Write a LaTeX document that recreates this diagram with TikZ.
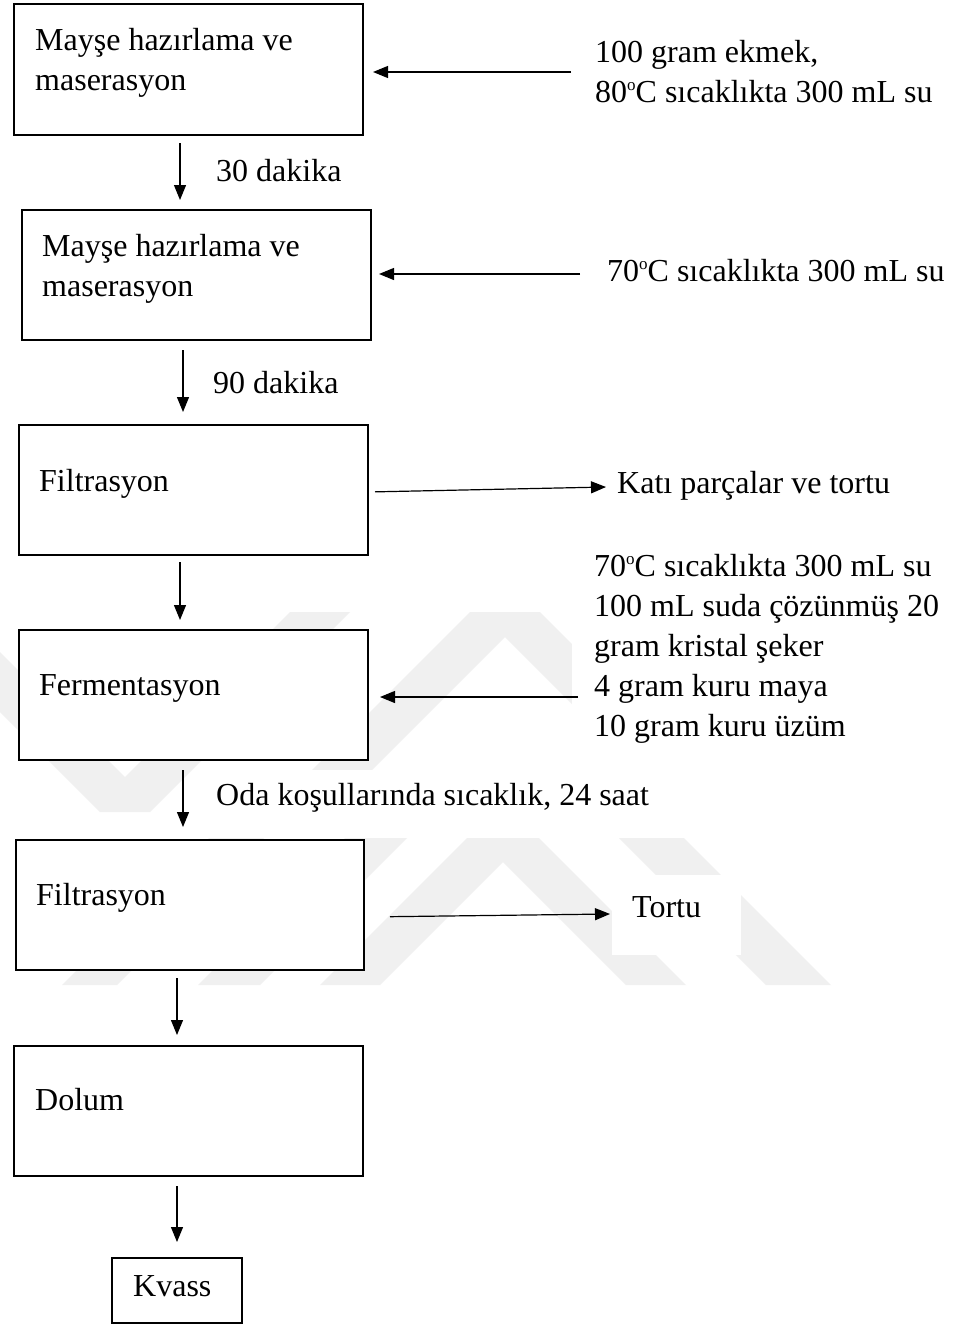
\documentclass[tikz,border=0pt]{standalone}
\usepackage{fontspec}
\setmainfont{Liberation Serif}
\usetikzlibrary{arrows.meta}
\definecolor{wm}{RGB}{240,240,240}
\tikzset{
  boxn/.style={draw=black, line width=1.2pt, fill=white, anchor=north west, inner sep=0pt, outer sep=0pt},
  txt/.style={anchor=base west, inner sep=0pt, font=\fontsize{32}{40}\selectfont},
  mtxt/.style={anchor=north west, inner sep=0pt, align=left, font=\fontsize{32}{40}\selectfont},
  arr/.style={line width=1.2pt, -{Triangle[length=15pt,width=12pt]}},
}
\newcommand{\fstrut}{\rule{0pt}{30pt}}
\newcommand{\dego}{\raisebox{12pt}{\fontsize{17}{17}\selectfont o}}
\begin{document}
\begin{tikzpicture}[x=1pt,y=-1pt]
\useasboundingbox (0,0) rectangle (958,1325);
\fill[white] (0,0) rectangle (958,1325);
% faint watermark
\fill[wm] (0,712)--(100,812)--(150,812)--(350,612)--(290,612)--(125,777)--(0,652)--cycle;
\fill[wm] (270,812)--(470,612)--(540,612)--(620,692)--(620,752)--(505,637)--(330,812)--cycle;
\fill[wm] (62,985)--(117,985)--(264,838)--(209,838)--cycle;
\fill[wm] (198,985)--(260,985)--(407,838)--(345,838)--cycle;
\fill[wm] (320,985)--(467,838)--(539,838)--(686,985)--(626,985)--(503,862)--(380,985)--cycle;
\fill[wm] (766,985)--(831,985)--(684,838)--(619,838)--cycle;
\fill[white] (572,540) rectangle (958,757);
\fill[white] (612,875) rectangle (741,955);
\fill[white] (195,770) rectangle (660,832);
% boxes
\node[boxn, minimum width=349pt, minimum height=131pt] (b1) at (14,4) {};
\node[boxn, minimum width=349pt, minimum height=130pt] (b2) at (22,210) {};
\node[boxn, minimum width=349pt, minimum height=130pt] (b3) at (19,425) {};
\node[boxn, minimum width=349pt, minimum height=130pt] (b4) at (19,630) {};
\node[boxn, minimum width=348pt, minimum height=130pt] (b5) at (16,840) {};
\node[boxn, minimum width=349pt, minimum height=130pt] (b6) at (14,1046) {};
\node[boxn, minimum width=130pt, minimum height=65pt] (b7) at (112,1258) {};
% texts
\node[mtxt] (t1) at (35,20) {\fstrut Mayşe hazırlama ve\\maserasyon};
\node[mtxt] (i1) at (595,32) {\fstrut 100 gram ekmek,\\80\dego C sıcaklıkta 300 mL su};
\node[txt] (l1) at (216,181) {30 dakika};
\node[mtxt] (t2) at (42,226) {\fstrut Mayşe hazırlama ve\\maserasyon};
\node[txt] (i2) at (607,281) {70\dego C sıcaklıkta 300 mL su};
\node[txt] (l2) at (213,393) {90 dakika};
\node[txt] (t3) at (39,491) {Filtrasyon};
\node[txt] (o3) at (617,493) {Katı parçalar ve tortu};
\node[txt] (t4) at (39,695) {Fermentasyon};
\node[mtxt] (i4) at (594,546) {\fstrut 70\dego C sıcaklıkta 300 mL su\\100 mL suda çözünmüş 20\\gram kristal şeker\\4 gram kuru maya\\10 gram kuru üzüm};
\node[txt] (l4) at (216,805) {Oda koşullarında sıcaklık, 24 saat};
\node[txt] (t5) at (36,905) {Filtrasyon};
\node[txt] (o5) at (632,917) {Tortu};
\node[txt] (t6) at (35,1110) {Dolum};
\node[txt] (t7) at (133,1296) {Kvass};
% vertical connectors
\coordinate (v1) at (180,0);
\coordinate (v2) at (183,0);
\coordinate (v3) at (180,0);
\coordinate (v4) at (183,0);
\coordinate (v5) at (177,0);
\coordinate (v6) at (177,0);
\draw[arr, shorten <=8pt, shorten >=10pt] (b1.south -| v1) -- (b2.north -| v1);
\draw[arr, shorten <=10pt, shorten >=13pt] (b2.south -| v2) -- (b3.north -| v2);
\draw[arr, shorten <=7pt, shorten >=10pt] (b3.south -| v3) -- (b4.north -| v3);
\draw[arr, shorten <=10pt, shorten >=13pt] (b4.south -| v4) -- (b5.north -| v4);
\draw[arr, shorten <=8pt, shorten >=11pt] (b5.south -| v5) -- (b6.north -| v5);
\draw[arr, shorten <=10pt, shorten >=16pt] (b6.south -| v6) -- (b7.north -| v6);
% side connectors
\coordinate (s1) at (571,72);
\coordinate (s2) at (580,274);
\coordinate (h3) at (0,492);
\coordinate (e3) at (606,487);
\coordinate (s4) at (578,697);
\coordinate (h5) at (0,917);
\coordinate (e5) at (610,914);
\draw[arr, shorten >=10pt] (s1) -- (s1 -| b1.east);
\draw[arr, shorten >=8pt] (s2) -- (s2 -| b2.east);
\draw[arr, shorten <=7pt] (b3.east |- h3) -- (e3);
\draw[arr, shorten >=12pt] (s4) -- (s4 -| b4.east);
\draw[arr, shorten <=26pt] (b5.east |- h5) -- (e5);
\end{tikzpicture}
\end{document}
